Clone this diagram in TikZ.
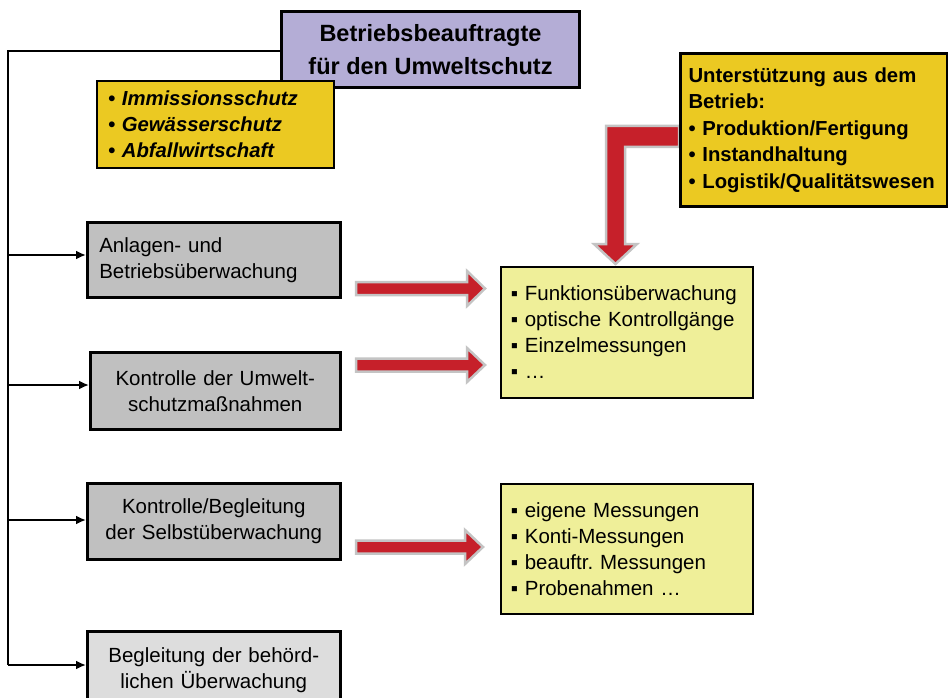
\documentclass[tikz,border=0pt]{standalone}
\usepackage{fontspec}
\setmainfont{Liberation Sans}
\usetikzlibrary{arrows.meta}
\definecolor{lila}{RGB}{180,173,214}
\definecolor{gelb}{RGB}{235,201,34}
\definecolor{hellgelb}{RGB}{239,239,153}
\definecolor{grau}{RGB}{192,192,192}
\definecolor{hellgrau}{RGB}{221,221,221}
\definecolor{rot}{RGB}{198,32,42}
\definecolor{rand}{RGB}{196,196,196}
\frenchspacing
\begin{document}
\begin{tikzpicture}[x=1pt,y=-1pt,
  basebox/.style={draw=black, anchor=north west, inner ysep=0pt},
  normtext/.style={font=\fontsize{20.5}{26}\selectfont},
  graybox/.style={basebox, normtext, fill=grau, line width=2.5pt, inner xsep=10pt},
  infobox/.style={basebox, normtext, fill=hellgelb, line width=1.5pt, inner xsep=10pt, align=left, text width=232pt, minimum height=130pt},
  redarrow/.style={fill=rot, draw=rand, line width=2.5pt, line join=miter},
  conn/.style={line width=2.2pt, -{Latex[length=10pt,width=9pt]}},
]
\useasboundingbox (0,0) rectangle (948,698);
\fill[white] (0,0) rectangle (948,698);

% title
\node[basebox, fill=lila, line width=3pt, minimum width=298pt, minimum height=76pt, align=center,
      font=\bfseries\fontsize{23.5}{33}\selectfont] (title) at (280,10) {Betriebsbeauftragte\\für den Umweltschutz};

% trunk line
\coordinate (top) at (8,51);
\coordinate (bot) at (8,665);
\draw[line width=2.2pt] (title.west |- top) -- (top) -- (bot);

% yellow topics box
\node[basebox, fill=gelb, line width=2pt, inner xsep=11pt, text width=215pt, minimum height=87pt, align=left,
      font=\bfseries\itshape\fontsize{20.3}{26}\selectfont] (topics) at (96,80)
      {• Immissionsschutz\\• Gewässerschutz\\• Abfallwirtschaft};

% L-shaped arrow from support box
\coordinate (sup) at (679,136.5);
\draw[redarrow] (sup |- 0,126) -- (606,126) -- (606,244) -- (594,244) -- (615.5,264) -- (637,244) -- (625,244) -- (625,147) -- (sup |- 0,147) -- cycle;

% support box
\node[basebox, fill=gelb, line width=3pt, inner xsep=8pt, text width=251pt, minimum height=153pt, align=left,
      font=\bfseries\fontsize{20.3}{26.5}\selectfont] (support) at (679,52)
      {Unterstützung aus dem\\Betrieb:\\• Produktion/Fertigung\\• Instandhaltung\\• Logistik/Qualitätswesen};

% gray boxes
\node[graybox, inner xsep=12pt, text width=229pt, minimum height=75pt, align=left] (b1) at (86,221)
  {Anlagen- und\\Betriebsüberwachung};
\node[graybox, text width=230pt, minimum height=77pt, align=center] (b2) at (89,351)
  {Kontrolle der Umwelt-\\schutzmaßnahmen};
\node[graybox, text width=233pt, minimum height=76pt, align=center] (b3) at (86,482)
  {Kontrolle/Begleitung\\der Selbstüberwachung};
\node[graybox, fill=hellgrau, text width=233pt, minimum height=78pt, align=center] (b4) at (86,630)
  {Begleitung der behörd-\\lichen Überwachung};

% info boxes
\node[infobox, minimum height=131pt] (i1) at (500,266)
  {▪ Funktionsüberwachung\\▪ optische Kontrollgänge\\▪ Einzelmessungen\\▪ …};
\node[infobox] (i2) at (500,483)
  {▪ eigene Messungen\\▪ Konti-Messungen\\▪ beauftr. Messungen\\▪ Probenahmen …};

% branch connectors
\draw[conn] (8,255) -- (b1.west |- 0,255);
\draw[conn] (8,385) -- (b2.west |- 0,385);
\draw[conn] (8,520) -- (b3.west |- 0,520);
\draw[conn] (8,665) -- (b4.west |- 0,665);

% red arrows
\draw[redarrow] (356,282) -- (467,282) -- (467,271) -- (485,288.5) -- (467,306) -- (467,295) -- (356,295) -- cycle;
\draw[redarrow] (356,358.5) -- (467,358.5) -- (467,348) -- (485,365) -- (467,382) -- (467,371.5) -- (356,371.5) -- cycle;
\draw[redarrow] (356,540.5) -- (465,540.5) -- (465,530) -- (483,547) -- (465,564) -- (465,553.5) -- (356,553.5) -- cycle;
\end{tikzpicture}
\end{document}
